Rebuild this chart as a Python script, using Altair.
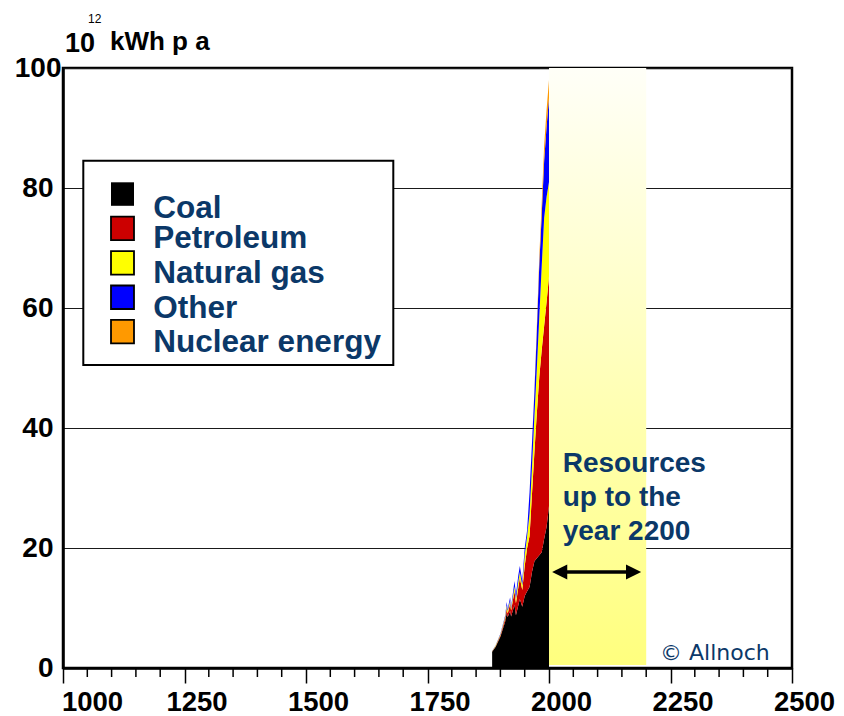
import altair as alt
import pandas as pd

# ---------------- data ----------------
years = [1883, 1890, 1900, 1910, 1913, 1915, 1920, 1922, 1929, 1932, 1937, 1940,
         1945, 1950, 1955, 1960, 1965, 1970, 1975, 1980, 1985, 1990, 1995, 2000]
coal = [2.7, 3.5, 5.2, 7.8, 9.2, 8.5, 9.5, 8.6, 10.5, 8.8, 10.5, 11.5,
        10.2, 12.0, 12.8, 13.5, 16.0, 17.8, 18.3, 18.8, 19.3, 21.5, 23.5, 27.0]
petroleum = [0.05, 0.1, 0.2, 0.5, 0.7, 0.6, 1.2, 1.0, 2.3, 2.0, 3.0, 3.5,
             2.8, 5.0, 7.2, 8.5, 13.0, 18.2, 24.2, 29.7, 33.7, 35.5, 37.5, 38.2]
natural_gas = [0.05, 0.1, 0.2, 0.3, 0.5, 0.4, 0.5, 0.3, 0.8, 0.7, 1.0, 1.0,
               0.8, 1.8, 2.0, 3.8, 4.5, 6.0, 7.5, 10.0, 14.0, 18.0, 17.5, 15.8]
other = [0.05, 0.05, 0.1, 0.2, 0.6, 0.3, 0.6, 0.3, 0.9, 0.8, 1.0, 1.0,
         0.7, 1.2, 1.0, 3.5, 4.0, 4.0, 6.2, 8.7, 8.5, 9.5, 11.7, 14.0]
nuclear = [0, 0, 0, 0, 0, 0, 0, 0, 0, 0, 0, 0,
           0, 0, 0, 0, 0.1, 0.3, 0.8, 1.3, 2.0, 2.5, 2.8, 3.0]

series_names = ["Coal", "Petroleum", "Natural gas", "Other", "Nuclear energy"]
series_colors = ["#000000", "#CC0000", "#FFFF00", "#0000FF", "#FF9900"]
series_values = [coal, petroleum, natural_gas, other, nuclear]

x_tick_labels = [1000, 1250, 1500, 1750, 2000, 2250, 2500]
minor_tick_years = [y for y in range(1000, 2501, 50) if y % 250 != 0]
y_tick_labels = [0, 20, 40, 60, 80, 100]

band_start, band_end = 2000, 2200
band_bottom, band_top = 0.5, 100
arrow_start, arrow_end, arrow_level = 2022, 2174, 16

annotation_lines = ["Resources", "up to the", "year 2200"]
copyright_text = "\u00a9 Allnoch"

# ---------------- styling ----------------
NAVY = "#0B3868"
FONT = "Liberation Sans"
W, H = 729, 600

rows = []
for order, (name, vals) in enumerate(zip(series_names, series_values)):
    for yr, v in zip(years, vals):
        rows.append({"year": yr, "value": v, "series": name, "ord": order})
df = pd.DataFrame(rows)

x_scale = alt.Scale(domain=[1000, 2500], nice=False, zero=False)
y_scale = alt.Scale(domain=[0, 100], nice=False)

x_axis = alt.Axis(
    values=x_tick_labels, title=None, grid=False, format="d",
    tickSize=15, tickWidth=1.5, tickColor="black",
    domainColor="black", domainWidth=2.5,
    labelFont=FONT, labelFontSize=27.5, labelFontWeight="bold", labelColor="black",
    labelPadding=5, labelFlush=False, labelOverlap=False,
    labelOffset={"condition": {"test": "datum.value == 1000", "value": 29}, "value": 12},
)
y_axis = alt.Axis(
    values=y_tick_labels, title=None, grid=True, gridColor="#1a1a1a", gridWidth=1.2,
    ticks=False, tickSize=0, domainColor="black", domainWidth=2.5, format="d",
    labelFont=FONT, labelFontSize=28, labelFontWeight="bold", labelColor="black",
    labelPadding={"condition": {"test": "datum.value == 100", "value": 2}, "value": 10},
    labelOverlap=False,
)

band = alt.Chart(pd.DataFrame({"x0": [band_start], "x1": [band_end],
                               "y0": [band_bottom], "y1": [band_top]})).mark_rect(
    color=alt.Gradient(
        gradient="linear",
        stops=[alt.GradientStop(color="#FFFFF8", offset=0),
               alt.GradientStop(color="#FFFF7E", offset=1)],
        x1=0, x2=0, y1=0, y2=1),
).encode(
    x=alt.X("x0:Q", scale=x_scale, axis=x_axis), x2="x1",
    y=alt.Y("y0:Q", scale=y_scale, axis=y_axis), y2="y1",
)

area = alt.Chart(df).mark_area(interpolate="linear").encode(
    x=alt.X("year:Q", scale=x_scale, axis=x_axis),
    y=alt.Y("value:Q", stack="zero", scale=y_scale, axis=y_axis),
    color=alt.Color("series:N", scale=alt.Scale(domain=series_names, range=series_colors), legend=None),
    order=alt.Order("ord:Q", sort="ascending"),
)

minor_ticks = alt.Chart(pd.DataFrame({"year": minor_tick_years})).mark_rule(
    color="black", strokeWidth=1.5
).encode(
    x=alt.X("year:Q", scale=x_scale, axis=x_axis),
    y=alt.value(H + 1), y2=alt.value(H + 9),
)

arrow_df = pd.DataFrame({"x0": [arrow_start], "x1": [arrow_end], "y": [arrow_level]})
arrow_line = alt.Chart(arrow_df).mark_rule(color="black", strokeWidth=3.5).encode(
    x=alt.X("x0:Q", scale=x_scale, axis=x_axis), x2="x1",
    y=alt.Y("y:Q", scale=y_scale, axis=y_axis),
)
head_left = alt.Chart(arrow_df).mark_point(
    shape="M -1 0 L 1 -1 L 1 1 Z", filled=True, size=230, color="black", opacity=1
).encode(x=alt.X("x0:Q", scale=x_scale, axis=x_axis), y=alt.Y("y:Q", scale=y_scale, axis=y_axis))
head_right = alt.Chart(arrow_df).mark_point(
    shape="M 1 0 L -1 -1 L -1 1 Z", filled=True, size=230, color="black", opacity=1
).encode(x=alt.X("x1:Q", scale=x_scale, axis=x_axis), y=alt.Y("y:Q", scale=y_scale, axis=y_axis))

one = alt.Data(values=[{}])
layers = [band, area, minor_ticks, arrow_line, head_left, head_right]

# legend box
layers.append(alt.Chart(one).mark_rect(fill="white", stroke="black", strokeWidth=2).encode(
    x=alt.value(20.3), x2=alt.value(330.3), y=alt.value(92.7), y2=alt.value(297)))
label_baselines = [149.7, 179.7, 215.3, 250.3, 283.7]
for i, (name, col) in enumerate(zip(series_names, series_colors)):
    top = 114.3 + i * 34.4
    layers.append(alt.Chart(one).mark_rect(
        fill=col, stroke="black", strokeWidth=1.8 if i else 0).encode(
        x=alt.value(48), x2=alt.value(71), y=alt.value(top), y2=alt.value(top + 23.5)))
    layers.append(alt.Chart(one).mark_text(
        text=name, align="left", baseline="alphabetic", font=FONT, fontSize=31.5,
        fontWeight="bold", color=NAVY).encode(x=alt.value(90.3), y=alt.value(label_baselines[i])))

# "Resources up to the year 2200"
for i, line in enumerate(annotation_lines):
    layers.append(alt.Chart(one).mark_text(
        text=line, align="left", baseline="alphabetic", font=FONT, fontSize=28,
        fontWeight="bold", color=NAVY).encode(x=alt.value(499.7), y=alt.value(403.7 + i * 34.2)))

# copyright
layers.append(alt.Chart(one).mark_text(
    text=copyright_text, align="left", baseline="alphabetic", font="DejaVu Sans",
    fontSize=22, color=NAVY).encode(x=alt.value(597), y=alt.value(592)))

# unit title: 10^12 kWh p a
layers.append(alt.Chart(one).mark_text(
    text="10", align="left", baseline="alphabetic", font=FONT, fontSize=27,
    fontWeight="bold", color="black").encode(x=alt.value(2), y=alt.value(-16.3)))
layers.append(alt.Chart(one).mark_text(
    text="12", align="left", baseline="alphabetic", font=FONT, fontSize=12,
    color="black").encode(x=alt.value(25), y=alt.value(-44.7)))
layers.append(alt.Chart(one).mark_text(
    text="kWh p a", align="left", baseline="alphabetic", font=FONT, fontSize=26,
    fontWeight="bold", color="black").encode(x=alt.value(47), y=alt.value(-18)))

chart = alt.layer(*layers).properties(
    width=W, height=H,
    autosize=alt.AutoSizeParams(type="none"),
    padding={"left": 55, "top": 60, "right": 44, "bottom": 48},
    background="white",
).configure_view(stroke="black", strokeWidth=2.5)

chart.save("out.html", embed_options={"renderer": "svg", "actions": False})
